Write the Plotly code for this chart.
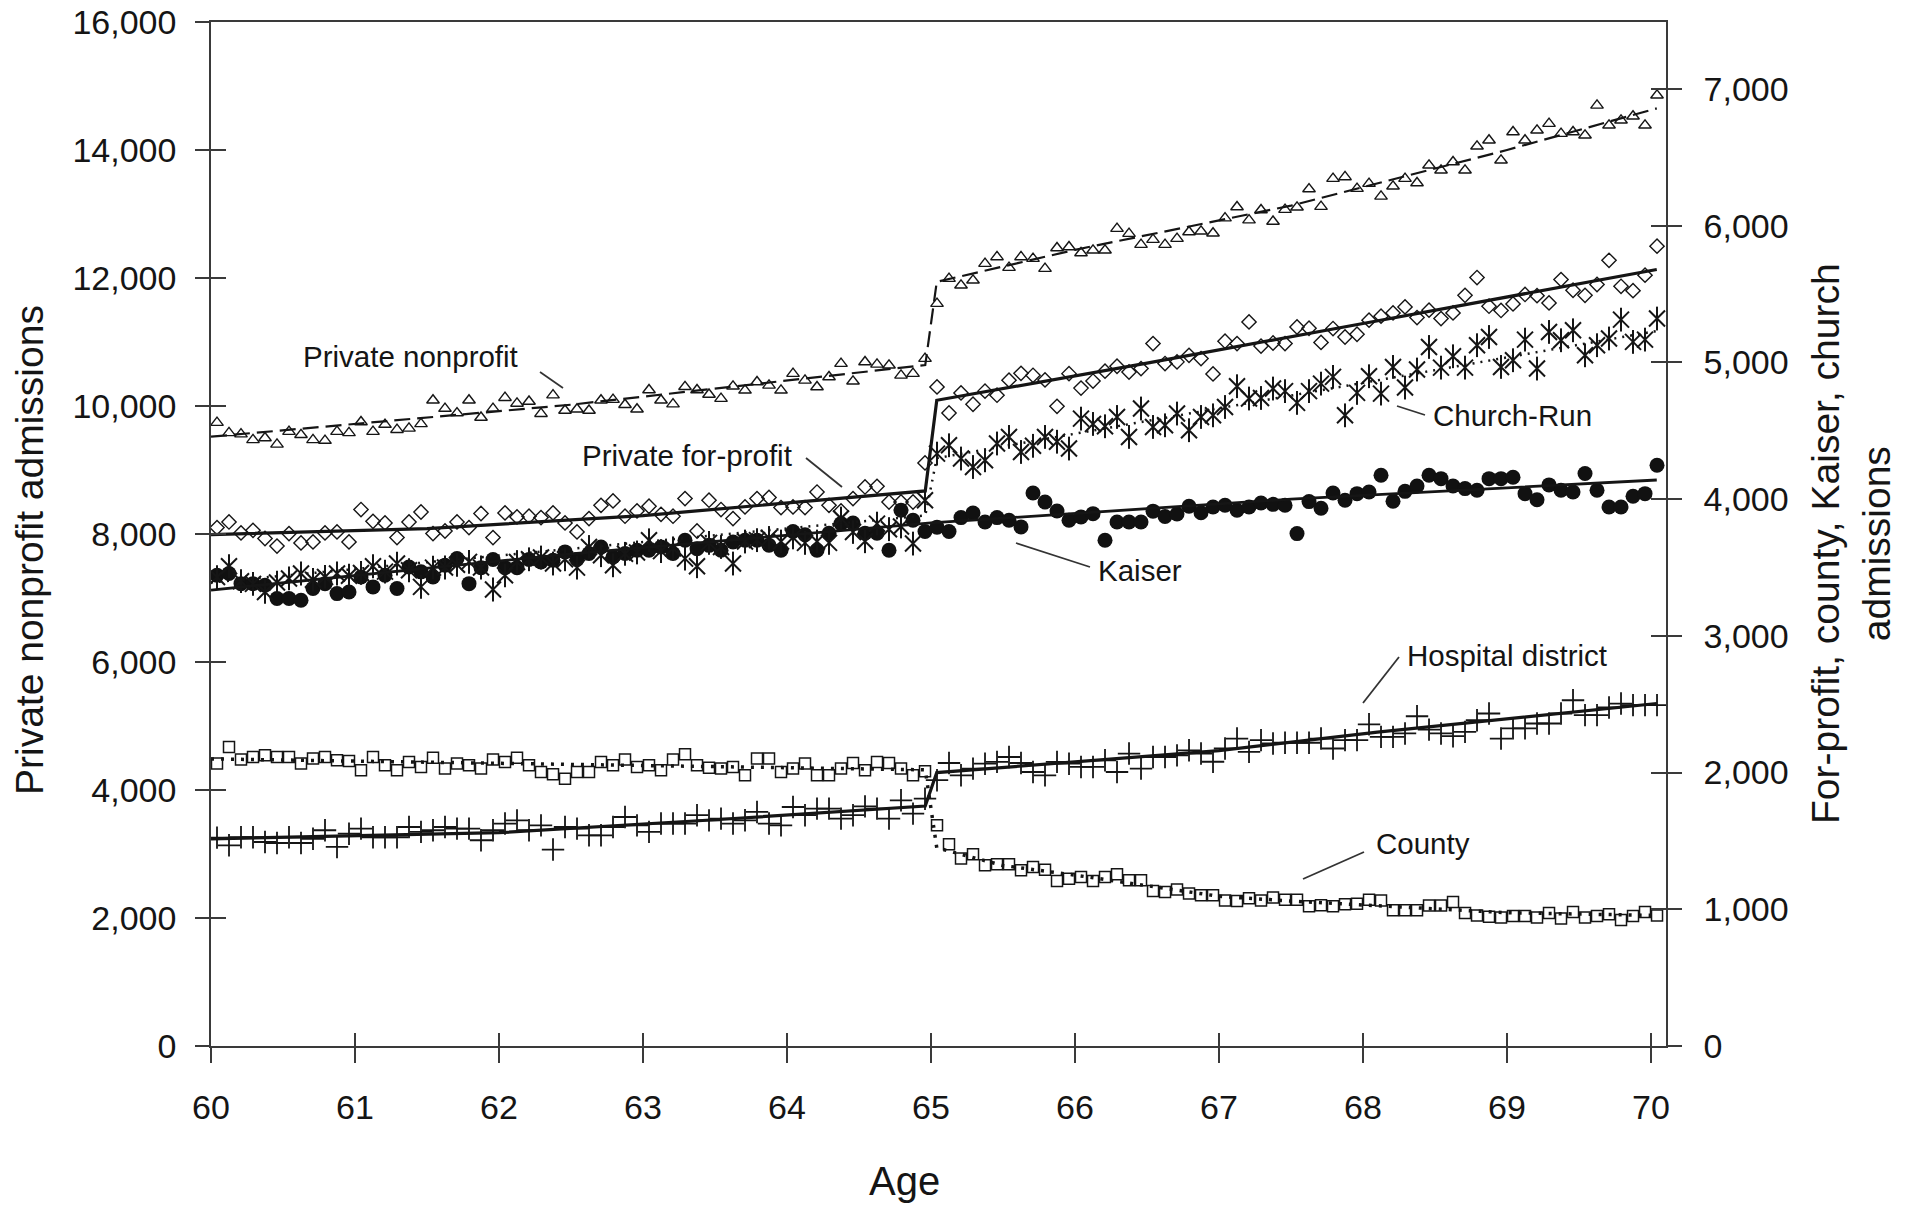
import plotly.graph_objects as go

# ---------------- data (monthly observations, ages 60-70) ----------------
MONTHS = list(range(121))
AGES = [60 + (m + 0.5) / 12 for m in MONTHS]

# left axis
PRIVATE_NONPROFIT = [
    9740, 9580, 9560, 9470, 9500, 9400, 9600, 9550, 9470, 9460, 9600, 9580,
    9750, 9600, 9710, 9630, 9650, 9720, 10090, 9960, 9890, 10090, 9820, 9960,
    10130, 10040, 10070, 9880, 10170, 9930, 9950, 9930, 10090, 10100, 10020, 9950,
    10250, 10090, 10030, 10300, 10250, 10180, 10115, 10308, 10245, 10375, 10323, 10245,
    10506, 10401, 10297, 10453, 10662, 10386, 10688, 10651, 10636, 10479, 10506, 10740,
    11600, 11990, 11886, 11964, 12225, 12329, 12162, 12329, 12303, 12147, 12469, 12485,
    12391, 12433, 12433, 12771, 12693, 12521, 12599, 12521, 12615, 12719, 12730, 12700,
    12935, 13110, 12905, 13063, 12883, 13068, 13105, 13390, 13115, 13553, 13579, 13396,
    13474, 13276, 13433, 13553, 13485, 13761, 13683, 13813, 13683, 14058, 14152, 13839,
    14282, 14152, 14308, 14412, 14256, 14282, 14230, 14698, 14386, 14464, 14527, 14386,
    14855]

# right axis
PRIVATE_FOR_PROFIT = [
    3792, 3833, 3753, 3772, 3712, 3657, 3748, 3680, 3687, 3753, 3760, 3687,
    3924, 3838, 3826, 3719, 3833, 3906, 3748, 3767, 3833, 3792, 3895, 3719,
    3899, 3870, 3875, 3865, 3899, 3826, 3760, 3858, 3955, 3987, 3875, 3914,
    3948, 3889, 3875, 4004, 3767, 3992, 3924, 3858, 3943, 4004, 4012, 3938,
    3943, 3938, 4052, 3955, 3914, 4004, 4089, 4094, 3979, 3979, 3979, 4265,
    4821, 4630, 4777, 4694, 4790, 4760, 4870, 4920, 4906, 4872, 4679, 4918,
    4812, 4864, 4936, 4972, 4930, 4955, 5138, 4992, 5004, 5052, 5028, 4916,
    5155, 5138, 5296, 5120, 5142, 5138, 5259, 5250, 5146, 5248, 5186, 5206,
    5309, 5338, 5362, 5406, 5328, 5382, 5321, 5362, 5491, 5621, 5411, 5380,
    5428, 5497, 5488, 5435, 5606, 5528, 5491, 5570, 5747, 5557, 5525, 5638,
    5850]

CHURCH_RUN = [
    3430, 3509, 3400, 3380, 3321, 3390, 3420, 3456, 3410, 3431, 3456, 3440,
    3460, 3509, 3470, 3529, 3480, 3358, 3499, 3500, 3520, 3541, 3500, 3339,
    3443, 3540, 3560, 3573, 3529, 3560, 3499, 3650, 3590, 3516, 3600, 3610,
    3699, 3620, 3640, 3565, 3509, 3680, 3650, 3529, 3690, 3700, 3716, 3690,
    3720, 3680, 3690, 3680, 3858, 3760, 3692, 3821, 3780, 3800, 3675, 3992,
    4333, 4394, 4297, 4235, 4284, 4407, 4455, 4345, 4390, 4455, 4420, 4370,
    4589, 4550, 4533, 4601, 4455, 4663, 4528, 4540, 4626, 4504, 4601, 4613,
    4674, 4826, 4736, 4740, 4809, 4790, 4704, 4790, 4845, 4894, 4613, 4777,
    4899, 4772, 4967, 4816, 4948, 5113, 4962, 5045, 4962, 5126, 5186, 4967,
    5016, 5167, 4955, 5223, 5162, 5235, 5052, 5126, 5175, 5313, 5150, 5167,
    5321]

KAISER = [
    3443, 3456, 3382, 3382, 3370, 3273, 3273, 3260, 3346, 3382, 3309, 3321,
    3431, 3358, 3443, 3346, 3504, 3468, 3431, 3516, 3565, 3382, 3499, 3558,
    3499, 3499, 3558, 3541, 3553, 3614, 3558, 3602, 3650, 3577, 3602, 3626,
    3626, 3650, 3602, 3699, 3638, 3662, 3626, 3687, 3699, 3699, 3663, 3626,
    3763, 3740, 3626, 3751, 3821, 3826, 3751, 3751, 3626, 3919, 3846, 3763,
    3795, 3763, 3865, 3899, 3833, 3865, 3846, 3797, 4045, 3979, 3913, 3846,
    3870, 3894, 3699, 3833, 3833, 3833, 3912, 3873, 3891, 3948, 3900, 3943,
    3955, 3919, 3943, 3972, 3962, 3955, 3748, 3982, 3933, 4045, 3992, 4040,
    4052, 4175, 3984, 4057, 4096, 4175, 4150, 4096, 4077, 4065, 4150, 4150,
    4160, 4040, 3996, 4104, 4065, 4052, 4187, 4065, 3943, 3943, 4021, 4040,
    4248]

HOSPITAL_DISTRICT = [
    1524, 1468, 1527, 1527, 1492, 1485, 1527, 1485, 1516, 1578, 1456, 1553,
    1590, 1527, 1527, 1527, 1602, 1566, 1578, 1602, 1590, 1590, 1505, 1578,
    1627, 1650, 1578, 1614, 1437, 1602, 1590, 1541, 1541, 1602, 1675, 1614,
    1566, 1627, 1627, 1627, 1688, 1650, 1663, 1627, 1651, 1712, 1627, 1614,
    1748, 1688, 1736, 1736, 1663, 1688, 1753, 1736, 1663, 1797, 1700, 1809,
    1944, 2070, 1980, 2029, 2065, 2078, 2114, 2070, 2004, 1980, 2078, 2065,
    2041, 2041, 2090, 2004, 2139, 2029, 2114, 2114, 2126, 2163, 2139, 2079,
    2176, 2249, 2151, 2237, 2213, 2218, 2218, 2218, 2249, 2176, 2237, 2237,
    2353, 2261, 2261, 2286, 2412, 2314, 2286, 2266, 2298, 2383, 2432, 2249,
    2323, 2323, 2359, 2359, 2432, 2529, 2420, 2420, 2476, 2505, 2493, 2493,
    2493]

COUNTY = [
    2066, 2187, 2095, 2114, 2126, 2114, 2114, 2066, 2102, 2114, 2090, 2085,
    2017, 2114, 2053, 2017, 2078, 2041, 2109, 2029, 2066, 2053, 2029, 2095,
    2078, 2109, 2053, 2004, 1987, 1955, 2004, 2004, 2078, 2053, 2095, 2041,
    2053, 2017, 2095, 2134, 2053, 2035, 2029, 2041, 1980, 2102, 2102, 2004,
    2029, 2066, 1980, 1980, 2029, 2070, 2017, 2078, 2070, 2029, 1980, 2010,
    1614, 1475, 1371, 1402, 1322, 1329, 1329, 1285, 1309, 1290, 1207, 1224,
    1236, 1207, 1236, 1256, 1212, 1212, 1134, 1127, 1144, 1115, 1103, 1103,
    1064, 1060, 1080, 1064, 1087, 1070, 1070, 1022, 1029, 1022, 1036, 1041,
    1070, 1064, 993, 993, 993, 1027, 1027, 1053, 973, 954, 946, 939,
    951, 951, 939, 973, 932, 980, 939, 951, 963, 922, 951, 980,
    954]

# fitted regression lines (knots)
NONPROFIT_FIT_X = [60.0, 62.5, 64.96, 65.04, 66.0, 67.5, 69.0, 70.04]
NONPROFIT_FIT_Y = [9520, 10020, 10640, 11940, 12440, 13130, 14000, 14650]
FORPROFIT_FIT_X = [60.0, 61.5, 63.0, 64.96, 65.04, 66.5, 68.0, 70.04]
FORPROFIT_FIT_Y = [3740, 3785, 3880, 4060, 4723, 4995, 5285, 5680]
CHURCH_FIT_X = [60.0, 64.96, 65.04, 70.04]
CHURCH_FIT_Y = [3390, 3880, 4300, 5230]
KAISER_FIT_X = [60.0, 62.5, 65.0, 67.5, 70.04]
KAISER_FIT_Y = [3335, 3600, 3826, 4000, 4140]
HOSPITAL_FIT_X = [60.0, 62.0, 63.5, 64.96, 65.04, 67.0, 68.1, 70.04]
HOSPITAL_FIT_Y = [1515, 1560, 1655, 1755, 2000, 2160, 2296, 2505]
COUNTY_FIT_X = [60.0, 62.5, 64.96, 65.04, 65.5, 66.0, 66.5, 67.0, 67.5, 68.0, 68.5, 69.0, 70.04]
COUNTY_FIT_Y = [2100, 2060, 2020, 1450, 1320, 1250, 1170, 1095, 1060, 1030, 1000, 975, 955]

X_TICKS = list(range(60, 71))
LEFT_TICKS = list(range(0, 16001, 2000))
RIGHT_TICKS = list(range(0, 7001, 1000))

# ---------------- style ----------------
FONT = "Liberation Sans, Arial, Helvetica, sans-serif"
INK = "#151515"
AX = "#3a3a3a"
W, H = 1913, 1209
L, R, T, B = 211, 247, 22, 163
PW, PH = W - L - R, H - T - B


def px(x):
    return (x - L) / PW


def py(y):
    return (H - B - y) / PH


fig = go.Figure()

# markers
fig.add_trace(go.Scatter(x=AGES, y=PRIVATE_NONPROFIT, mode="markers", yaxis="y",
                         marker=dict(symbol="triangle-up-open", size=11, color=INK, line=dict(width=1.4, color=INK))))
fig.add_trace(go.Scatter(x=AGES, y=PRIVATE_FOR_PROFIT, mode="markers", yaxis="y2",
                         marker=dict(symbol="diamond-open", size=11, color=INK, line=dict(width=1.4, color=INK))))
fig.add_trace(go.Scatter(x=AGES, y=KAISER, mode="markers", yaxis="y2",
                         marker=dict(symbol="circle", size=15, color="#111111", line=dict(width=0))))
fig.add_trace(go.Scatter(x=AGES, y=CHURCH_RUN, mode="markers", yaxis="y2",
                         marker=dict(symbol="x-thin-open", size=16, color=INK, line=dict(width=2, color=INK))))
fig.add_trace(go.Scatter(x=AGES, y=CHURCH_RUN, mode="markers", yaxis="y2",
                         marker=dict(symbol="line-ns-open", size=17, color=INK, line=dict(width=2, color=INK))))
fig.add_trace(go.Scatter(x=AGES, y=HOSPITAL_DISTRICT, mode="markers", yaxis="y2",
                         marker=dict(symbol="cross-thin-open", size=16, color=INK, line=dict(width=1.8, color=INK))))
fig.add_trace(go.Scatter(x=AGES, y=COUNTY, mode="markers", yaxis="y2",
                         marker=dict(symbol="square-open", size=11, color=INK, line=dict(width=1.5, color=INK))))

# fitted lines
fig.add_trace(go.Scatter(x=NONPROFIT_FIT_X, y=NONPROFIT_FIT_Y, mode="lines", yaxis="y",
                         line=dict(color=INK, width=2.2, dash="16px,7px")))
fig.add_trace(go.Scatter(x=FORPROFIT_FIT_X, y=FORPROFIT_FIT_Y, mode="lines", yaxis="y2",
                         line=dict(color=INK, width=3.2)))
fig.add_trace(go.Scatter(x=CHURCH_FIT_X, y=CHURCH_FIT_Y, mode="lines", yaxis="y2",
                         line=dict(color=INK, width=2.5, dash="2px,6px")))
fig.add_trace(go.Scatter(x=KAISER_FIT_X, y=KAISER_FIT_Y, mode="lines", yaxis="y2",
                         line=dict(color=INK, width=2.8)))
fig.add_trace(go.Scatter(x=HOSPITAL_FIT_X, y=HOSPITAL_FIT_Y, mode="lines", yaxis="y2",
                         line=dict(color=INK, width=3.2)))
fig.add_trace(go.Scatter(x=COUNTY_FIT_X, y=COUNTY_FIT_Y, mode="lines", yaxis="y2",
                         line=dict(color=INK, width=3.5, dash="3px,7px")))

# empty traces that carry the inner halves of the crossing tick marks
fig.add_trace(go.Scatter(x=[], y=[], xaxis="x3", yaxis="y3", showlegend=False))
fig.add_trace(go.Scatter(x=[], y=[], xaxis="x3", yaxis="y4", showlegend=False))

XR = [60, 70.104]
YL = [0, 16000]
YR = [0, 7490]
tickfont = dict(family=FONT, size=34, color=INK)

fig.update_layout(
    width=W, height=H, autosize=False,
    margin=dict(l=L, r=R, t=T, b=B, pad=0, autoexpand=False),
    paper_bgcolor="white", plot_bgcolor="white",
    showlegend=False, hovermode=False,
    font=dict(family=FONT, color=INK),
    xaxis=dict(range=XR, tickvals=X_TICKS, ticks="outside", ticklen=15, tickwidth=1.5, tickcolor=AX,
               showline=True, linecolor=AX, linewidth=1.5, mirror=True, showgrid=False, zeroline=False,
               tickfont=tickfont, ticklabelstandoff=15, automargin=False),
    xaxis3=dict(range=XR, tickvals=X_TICKS, ticks="inside", ticklen=13, tickwidth=1.5, tickcolor=AX,
                overlaying="x", anchor="y", showticklabels=False, showline=False, showgrid=False,
                zeroline=False, automargin=False),
    yaxis=dict(range=YL, tickvals=LEFT_TICKS, tickformat=",d", ticks="outside", ticklen=14, tickwidth=1.5,
               tickcolor=AX, showline=True, linecolor=AX, linewidth=1.5, showgrid=False, zeroline=False,
               tickfont=tickfont, ticklabelstandoff=12, automargin=False),
    yaxis3=dict(range=YL, tickvals=LEFT_TICKS, ticks="inside", ticklen=15, tickwidth=1.5, tickcolor=AX,
                overlaying="y", anchor="x", side="left", showticklabels=False, showline=False,
                showgrid=False, zeroline=False, automargin=False),
    yaxis2=dict(range=YR, tickvals=RIGHT_TICKS, tickformat=",d", ticks="outside", ticklen=14, tickwidth=1.5,
                tickcolor=AX, overlaying="y", side="right", anchor="x", showline=True, linecolor=AX,
                linewidth=1.5, showgrid=False, zeroline=False, tickfont=tickfont, ticklabelstandoff=15,
                automargin=False),
    yaxis4=dict(range=YR, tickvals=RIGHT_TICKS, ticks="inside", ticklen=15, tickwidth=1.5, tickcolor=AX,
                overlaying="y", side="right", anchor="x", showticklabels=False, showline=False,
                showgrid=False, zeroline=False, automargin=False),
)

# axis titles
title_font = dict(family=FONT, size=39, color=INK)
fig.add_annotation(text="Age", xref="paper", yref="paper", x=px(904), y=py(1181), showarrow=False,
                   font=dict(family=FONT, size=40, color=INK), xanchor="center", yanchor="middle")
fig.add_annotation(text="Private nonprofit admissions", xref="paper", yref="paper", x=px(29), y=py(550),
                   showarrow=False, textangle=-90, font=title_font, xanchor="center", yanchor="middle")
fig.add_annotation(text="For-profit, county, Kaiser, church<br>admissions", xref="paper", yref="paper",
                   x=px(1851), y=py(544), showarrow=False, textangle=-90, font=title_font,
                   xanchor="center", yanchor="middle", align="center")

# series labels with leader lines
label_font = dict(family=FONT, size=29.5, color=INK)
LABELS = [
    ("Private nonprofit", 410, 356, (540, 372, 563, 388)),
    ("Private for-profit", 687, 455, (806, 458, 842, 487)),
    ("Church-Run", 1512, 415, (1397, 406, 1425, 415)),
    ("Kaiser", 1140, 570, (1016, 543, 1090, 567)),
    ("Hospital district", 1507, 655, (1363, 703, 1399, 657)),
    ("County", 1423, 843, (1303, 879, 1364, 852)),
]
for text, cx, cy, (x0, y0, x1, y1) in LABELS:
    fig.add_annotation(text=text, xref="paper", yref="paper", x=px(cx), y=py(cy), showarrow=False,
                       font=label_font, xanchor="center", yanchor="middle")
    fig.add_shape(type="line", xref="paper", yref="paper", x0=px(x0), y0=py(y0), x1=px(x1), y1=py(y1),
                  line=dict(color="#333333", width=1.8))

fig.write_html("out.html")
